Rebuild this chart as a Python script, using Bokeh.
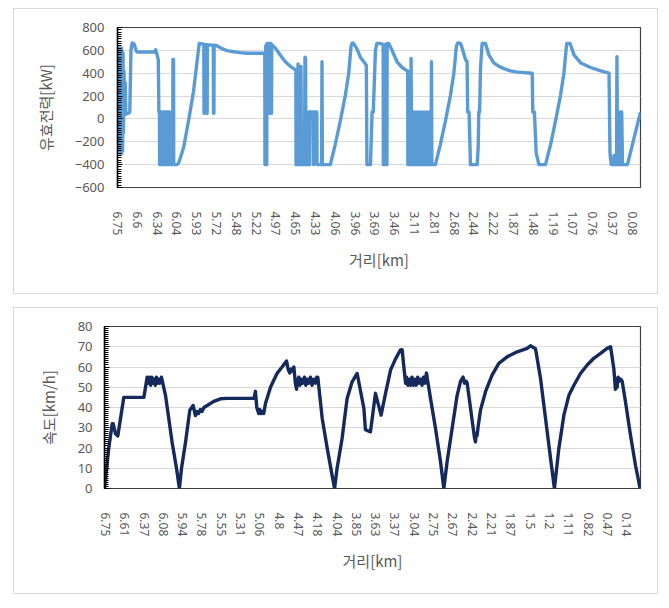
from bokeh.plotting import figure
from bokeh.models import Range1d, FixedTicker, SingleIntervalTicker
from bokeh.layouts import column
from bokeh.embed import file_html
from bokeh.resources import INLINE

# ---------------- data ----------------
top_labels = ["6.75", "6.6", "6.34", "6.04", "5.93", "5.72", "5.48", "5.22", "4.97",
              "4.65", "4.33", "4.06", "3.96", "3.69", "3.46", "3.11", "2.81", "2.68",
              "2.44", "2.22", "1.87", "1.48", "1.19", "1.07", "0.76", "0.37", "0.08"]
bot_labels = ["6.75", "6.61", "6.37", "6.08", "5.94", "5.78", "5.55", "5.31", "5.06",
              "4.8", "4.47", "4.18", "4.04", "3.85", "3.63", "3.37", "3.04", "2.75",
              "2.67", "2.42", "2.21", "1.87", "1.5", "1.2", "1.11", "0.82", "0.47", "0.14"]

# x = position along the category axis, in label intervals
top_x = [0.00, 0.02, 0.04, 0.06, 0.08, 0.10, 0.12, 0.14, 0.16, 0.18, 0.20, 0.22, 0.24, 0.26,
         0.28, 0.30, 0.33, 0.36, 0.39, 0.42, 0.47, 0.55, 0.62, 0.68, 0.74, 0.84, 0.92, 0.98,
         1.88, 1.93, 1.99, 2.06, 2.09, 2.12, 2.13, 2.17, 2.18, 2.25, 2.26, 2.30, 2.31, 2.38,
         2.39, 2.43, 2.44, 2.50, 2.51, 2.55, 2.56, 2.63, 2.64, 2.79, 2.80, 2.83, 2.84, 3.00,
         3.09, 3.34, 3.59, 3.84, 4.01, 4.13, 4.36, 4.37, 4.39, 4.40, 4.50, 4.51, 4.53, 4.54,
         4.84, 4.85, 4.87, 4.88, 5.02, 5.28, 5.53, 5.87, 6.20, 6.54, 7.44, 7.45, 7.48, 7.49,
         7.51, 7.52, 7.54, 7.55, 7.62, 7.63, 7.65, 7.66, 7.75, 7.76, 7.78, 7.79, 7.97, 8.22,
         8.48, 8.73, 8.90, 9.01, 9.02, 9.10, 9.12, 9.14, 9.25, 9.27, 9.29, 9.45, 9.47, 9.50,
         9.52, 9.65, 9.66, 9.70, 9.71, 9.73, 9.90, 9.91, 9.93, 10.07, 10.08, 10.31, 10.33,
         10.35, 10.75, 11.00, 11.26, 11.51, 11.68, 11.80, 11.86, 11.93, 12.10, 12.27, 12.44,
         12.57, 12.60, 12.78, 12.86, 12.92, 13.03, 13.10, 13.30, 13.42, 13.43, 13.46, 13.47,
         13.57, 13.58, 13.61, 13.62, 13.70, 13.87, 14.12, 14.38, 14.63, 14.66, 14.67, 14.80,
         14.83, 14.86, 14.90, 14.96, 15.02, 15.08, 15.14, 15.20, 15.26, 15.32, 15.38, 15.44,
         15.50, 15.56, 15.62, 15.68, 15.74, 15.80, 15.84, 15.86, 15.88, 16.06, 16.31, 16.57,
         16.82, 16.99, 17.12, 17.19, 17.33, 17.41, 17.58, 17.66, 17.69, 17.76, 17.83, 18.17,
         18.22, 18.25, 18.29, 18.34, 18.42, 18.59, 18.76, 19.01, 19.27, 19.52, 19.85, 20.19,
         20.95, 20.98, 21.06, 21.15, 21.29, 21.62, 21.88, 22.13, 22.38, 22.55, 22.69, 22.86,
         23.06, 23.40, 23.90, 24.41, 24.83, 24.88, 24.94, 25.05, 25.08, 25.12, 25.21, 25.23,
         25.26, 25.37, 25.39, 25.43, 25.44, 25.47, 25.51, 25.76, 26.42]
top_kw = [300, 80, 560, -150, 620, -280, 600, -300, 610, -200, 620, -300, 520, -280,
          580, -120, 420, 40, 320, 40, 50, 50, 60, 600, 665, 655, 610, 585,
          585, 605, 565, 520, 60, 60, -400, -400, 60, 60, -400, -400, 60, 60,
          -400, -400, 60, 60, -400, -400, 60, 60, -400, -400, 520, 520, -400, -400,
          -385, -250, -15, 240, 490, 660, 655, 50, 50, 650, 650, 50, 50, 648,
          645, 50, 50, 645, 640, 615, 598, 588, 580, 575, 575, -400, -400, 640,
          640, -400, -400, 660, 660, 50, 50, 660, 660, 50, 50, 650, 620, 560,
          500, 460, 440, 430, -400, -400, 480, -400, -400, 460, -400, -400, 540, 530,
          -400, -400, 60, 60, -400, 60, 60, -400, 60, 60, -400, -400, 500,
          -400, -400, -222, -15, 207, 400, 640, 665, 660, 610, 540, 500,
          470, -400, -400, 60, 60, 600, 660, 660, 650, -400, -400, 650,
          650, -400, -400, 660, 660, 600, 500, 450, 420, 420, -400, -400,
          530, -400, 60, -400, 60, -400, 60, -400, 60, -400, 60, -400,
          60, -400, 60, -400, 60, -400, -400, 500, -400, -400, -222, -15,
          207, 400, 637, 665, 660, 620, 520, 500, 60, 60, -400, -400,
          -250, 60, 60, 450, 660, 660, 560, 490, 460, 440, 420, 410,
          400, 60, 60, -300, -400, -400, -222, -15, 207, 400, 660, 660,
          560, 490, 450, 420, 400, -300, -400, -400, -320, -400, -400, 545,
          -400, -400, 60, 60, -400, 60, -400, -400, 60]

bot_x = [-0.05, 0.17, 0.35, 0.40, 0.52, 0.64, 0.95, 1.99, 2.16, 2.22, 2.28, 2.34, 2.40, 2.46,
         2.52, 2.58, 2.64, 2.70, 2.76, 2.82, 2.90, 3.11, 3.28, 3.45, 3.68, 3.83, 3.94, 4.15,
         4.37, 4.54, 4.66, 4.75, 4.82, 4.92, 5.00, 5.10, 5.27, 5.61, 5.96, 6.30, 7.69, 7.77,
         7.84, 7.94, 8.00, 8.06, 8.12, 8.20, 8.29, 8.55, 8.90, 9.15, 9.38, 9.46, 9.55, 9.62,
         9.68, 9.76, 9.84, 9.90, 9.95, 10.02, 10.08, 10.15, 10.22, 10.31, 10.38, 10.45, 10.52,
         10.62, 10.70, 10.80, 10.88, 10.95, 11.00, 11.23, 11.49, 11.74, 11.87, 12.00, 12.26,
         12.52, 12.78, 13.04, 13.39, 13.47, 13.73, 13.99, 14.28, 14.51, 14.77, 15.03, 15.28,
         15.37, 15.46, 15.55, 15.60, 15.67, 15.74, 15.80, 15.88, 15.95, 16.02, 16.10, 16.18,
         16.25, 16.33, 16.40, 16.48, 16.55, 16.63, 16.84, 17.10, 17.36, 17.53, 17.70, 17.96,
         18.22, 18.40, 18.53, 18.60, 18.68, 18.74, 19.12, 19.17, 19.21, 19.25, 19.30, 19.43,
         19.69, 20.03, 20.38, 20.81, 21.33, 21.85, 22.02, 22.28, 22.54, 22.80, 23.06, 23.26,
         23.49, 23.75, 24.01, 24.27, 24.61, 24.96, 25.30, 25.65, 25.99, 26.17, 26.34, 26.42,
         26.46, 26.51, 26.56, 26.62, 26.69, 26.77, 26.94, 27.20, 27.46, 27.70]
bot_kmh = [0, 20, 32, 32, 27, 26, 45, 45, 55, 52, 55, 51, 55, 52,
           54, 51, 55, 52, 54, 52, 55, 46, 34.6, 23, 10, 0, 10, 23,
           38.7, 41, 36, 38, 37, 39, 38, 40, 41, 43, 44.3, 44.5, 44.5, 48,
           40, 37, 39, 37, 38, 37, 42, 50, 57, 60, 63, 59, 57, 59,
           58, 60, 52, 49, 53, 55, 51, 54, 52, 55, 51, 54, 52,
           55, 51, 54, 52, 55, 55, 34.6, 19.8, 6.6, 0, 10, 24.7,
           44.5, 52.7, 56.8, 39.5, 29, 28, 47, 36.2, 47, 58.5, 64, 68.4,
           68.5, 60, 52, 55, 51, 54, 51, 55, 51, 54, 51, 55,
           52, 54, 51, 55, 52, 57, 44.5, 29.6, 13.2, 0, 13.2, 29.6,
           46, 53, 55, 52, 53, 52, 25, 23, 27, 26, 30, 38.7,
           47.8, 56, 61.8, 65, 67.5, 69.2, 70.5, 69, 54.4, 34.6, 14.8, 0,
           19.8, 36.2, 46, 51, 56.8, 61, 64.3, 66.7, 69.2, 70, 59, 49,
           54, 50, 55, 53, 54, 53, 43, 26.4, 11.5, 0]

TXT = "#595959"
CJK = "Noto Sans CJK KR"
NUM = "Noto Sans"


def style(p, labels, ytick, x_title, y_title, ylab_standoff):
    p.frame_align = False
    p.outline_line_color = "#404040"
    p.outline_line_width = 1.2
    p.xgrid.visible = False
    p.ygrid.grid_line_color = "#d9d9d9"
    p.ygrid.grid_line_width = 1
    p.yaxis.ticker = ytick
    p.xaxis.ticker = FixedTicker(ticks=list(range(len(labels))))
    p.xaxis.major_label_overrides = {i: s for i, s in enumerate(labels)}
    p.xaxis.major_label_orientation = "vertical"
    p.xaxis.axis_line_color = None
    p.xaxis.major_tick_line_color = None
    p.xaxis.minor_tick_line_color = None
    p.xaxis.major_label_standoff = 18
    p.xaxis.major_label_text_font = NUM
    p.xaxis.major_label_text_font_size = "12px"
    p.xaxis.major_label_text_color = TXT
    p.xaxis.axis_label = x_title
    p.xaxis.axis_label_text_font = CJK
    p.xaxis.axis_label_text_font_size = "15px"
    p.xaxis.axis_label_text_font_style = "normal"
    p.xaxis.axis_label_text_color = TXT
    p.xaxis.axis_label_standoff = 11
    p.yaxis.axis_line_color = "black"
    p.yaxis.axis_line_width = 1.5
    p.yaxis.major_tick_in = 5
    p.yaxis.major_tick_out = 0
    p.yaxis.major_tick_line_color = "black"
    p.yaxis.minor_tick_in = 4
    p.yaxis.minor_tick_out = 0
    p.yaxis.minor_tick_line_color = "black"
    p.yaxis.minor_tick_line_width = 1
    p.yaxis.major_label_standoff = ylab_standoff
    p.yaxis.major_label_text_font = NUM
    p.yaxis.major_label_text_font_size = "13px"
    p.yaxis.major_label_text_color = TXT
    p.yaxis.axis_label = y_title
    p.yaxis.axis_label_text_font = CJK
    p.yaxis.axis_label_text_font_size = "15px"
    p.yaxis.axis_label_text_font_style = "normal"
    p.yaxis.axis_label_text_color = TXT
    p.yaxis.axis_label_standoff = 16


# ---------------- top chart ----------------
p1 = figure(width=645, height=286, output_backend="svg", toolbar_location=None,
            x_range=Range1d(0, 26.42), y_range=Range1d(-600, 800),
            min_border_left=103, min_border_right=19, min_border_top=18, min_border_bottom=108)
p1.line(top_x, top_kw, line_color="#5b9bd5", line_width=3.4, line_join="round")
style(p1, top_labels, SingleIntervalTicker(interval=200, num_minor_ticks=10),
      "거리[km]", "유효전력[kW]", 13)
p1.margin = (8, 0, 0, 13)
p1.styles = {"border": "1px solid #d9d9d9"}

# ---------------- bottom chart ----------------
p2 = figure(width=645, height=287, output_backend="svg", toolbar_location=None,
            x_range=Range1d(-0.05, 27.72), y_range=Range1d(0, 80),
            min_border_left=90, min_border_right=19, min_border_top=18, min_border_bottom=107)
p2.line(bot_x, bot_kmh, line_color="#15295c", line_width=3.4, line_join="round")
style(p2, bot_labels, SingleIntervalTicker(interval=10, num_minor_ticks=10),
      "거리[km]", "속도[km/h]", 12)
p2.margin = (13, 0, 0, 13)
p2.styles = {"border": "1px solid #d9d9d9"}

layout = column(p1, p2)
open("out.html", "w").write(file_html(layout, INLINE))
